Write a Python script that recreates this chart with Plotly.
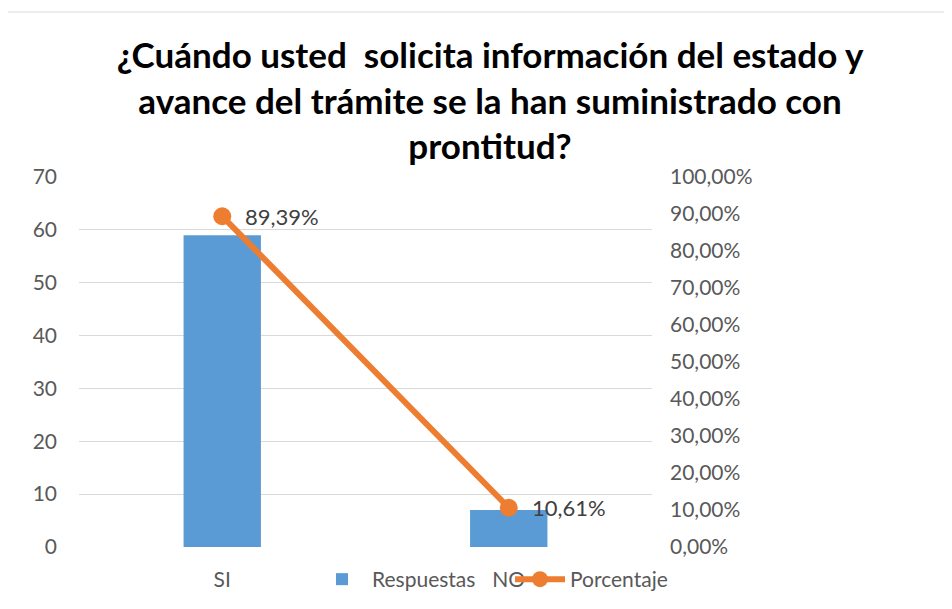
import plotly.graph_objects as go

categorias = ["SI", "NO"]
respuestas = [59, 7]
porcentaje = [89.39, 10.61]
ticks_izq = [0, 10, 20, 30, 40, 50, 60, 70]
ticks_der = [0, 10, 20, 30, 40, 50, 60, 70, 80, 90, 100]

FONT = "Lato"
W, H = 952, 609
OFF = 8  # page body margin
# plot area in picture pixels
PL, PR, PT, PB = 79, 652, 177, 547

def px_x(p):
    return (p - PL) / (PR - PL)

def px_y(p):
    return (PB - p) / (PB - PT)

etiquetas = [f"{p:.2f}%".replace(".", ",") for p in porcentaje]

fig = go.Figure()
fig.add_trace(go.Bar(
    x=categorias, y=respuestas, name="Respuestas",
    marker=dict(color="#5B9BD5", line=dict(width=0)),
    width=0.27,
))
fig.add_trace(go.Scatter(
    x=categorias, y=[p / 100 for p in porcentaje], name="Porcentaje",
    yaxis="y2", mode="lines+markers",
    line=dict(color="#ED7D31", width=6),
    marker=dict(color="#ED7D31", size=18),
))

annotations = [
    dict(x=c, y=p / 100, xref="x", yref="y2", text=t, showarrow=False,
         xanchor="left", yanchor="middle", xshift=21,
         font=dict(family=FONT, size=22, color="#404040"))
    for c, p, t in zip(categorias, porcentaje, etiquetas)
]

fig.update_layout(
    width=W, height=H,
    margin=dict(l=PL - OFF, r=W - (PR - OFF), t=PT - OFF, b=H - (PB - OFF), autoexpand=False),
    paper_bgcolor="white", plot_bgcolor="white",
    separators=",.",
    font=dict(family=FONT, color="#595959", size=21),
    title=dict(
        text="¿Cuándo usted \u00a0solicita información del estado y<br>avance del trámite se la han suministrado con<br>prontitud?",
        font=dict(family=FONT, size=35, color="#000000", weight="bold"),
        x=(490 - OFF) / W, xanchor="center", xref="container",
        y=1 - 60 / H, yanchor="top", yref="container",
    ),
    bargap=0.73,
    xaxis=dict(
        showgrid=False, showline=False, zeroline=False,
        tickfont=dict(size=21, color="#595959"),
        ticks="", ticklabelstandoff=18,
    ),
    yaxis=dict(
        range=[0, 70], tickvals=ticks_izq,
        showgrid=True, gridcolor="#d9d9d9", gridwidth=1,
        zeroline=False, showline=False, ticks="",
        tickfont=dict(size=21, color="#595959"),
        ticklabelstandoff=21,
    ),
    yaxis2=dict(
        overlaying="y", side="right",
        range=[0, 1], tickvals=[t / 100 for t in ticks_der], tickformat=".2%",
        showgrid=False, zeroline=False, showline=False, ticks="",
        tickfont=dict(size=21, color="#595959"),
        ticklabelstandoff=17,
    ),
    showlegend=True,
    legend=dict(
        orientation="h", x=px_x(312), y=px_y(559), xanchor="left", yanchor="top",
        font=dict(size=21, color="#595959"), bgcolor="rgba(0,0,0,0)",
        itemwidth=50, entrywidth=133, entrywidthmode="pixels", traceorder="normal",
    ),
    annotations=annotations,
    shapes=[dict(
        type="rect", xref="paper", yref="paper",
        x0=px_x(5), x1=px_x(1000), y0=px_y(650), y1=px_y(12),
        line=dict(color="#d9d9d9", width=1), fillcolor="rgba(0,0,0,0)", layer="below",
    )],
)

fig.write_html("out.html")
